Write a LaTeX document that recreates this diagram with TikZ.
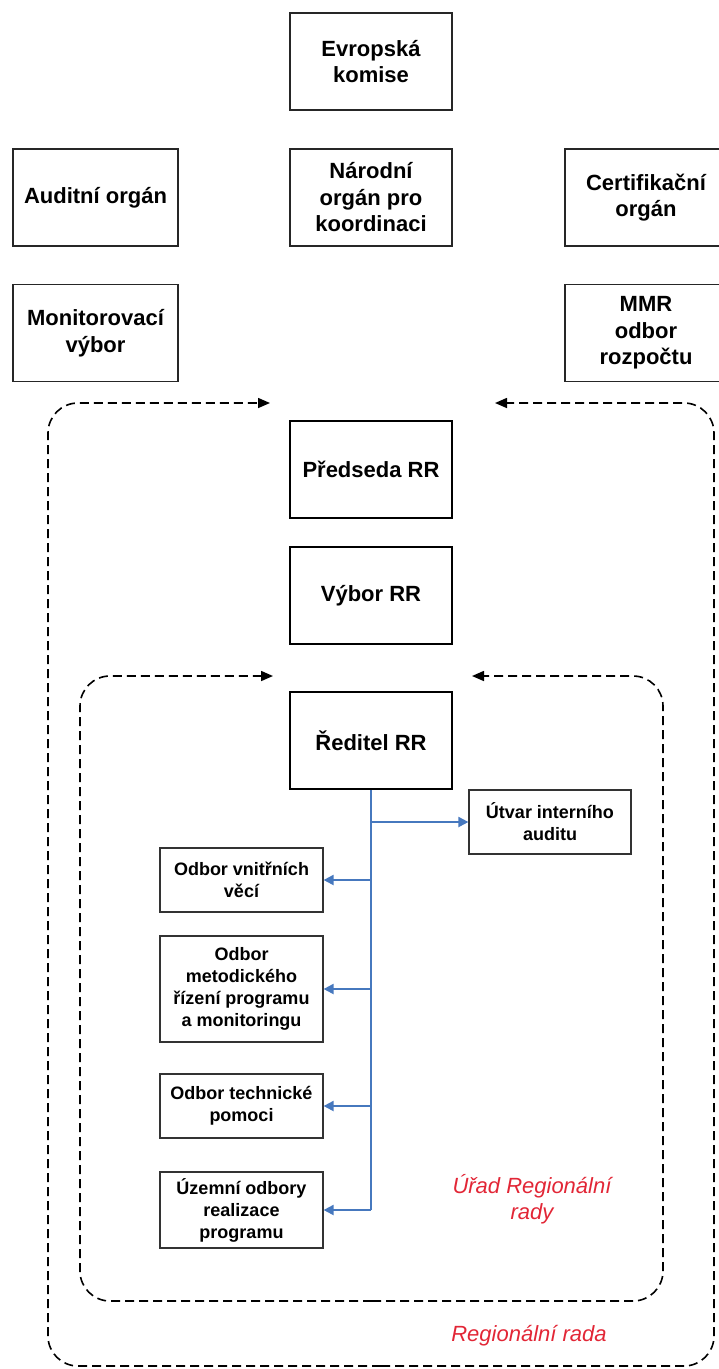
\documentclass[tikz,border=0pt]{standalone}
\usepackage{fontspec}
\setmainfont{Liberation Sans}
\usetikzlibrary{arrows.meta}
\definecolor{spojmodra}{RGB}{70,120,190}
\definecolor{popiscerv}{RGB}{226,38,54}
\tikzset{
	organ/.style={draw=black!85,line width=1.3pt,minimum width=162pt,minimum height=97pt,inner sep=2pt,align=center,font=\fontsize{22}{26.5}\selectfont\bfseries},
	rada/.style={organ,draw=black,line width=2.4pt},
	odbor/.style={draw=black!80,line width=1.2pt,minimum width=163pt,inner sep=2pt,align=center,font=\fontsize{18}{22}\selectfont\bfseries},
	ramec/.style={line width=1.6pt,dash pattern=on 9pt off 5pt,rounded corners=30pt,-{Triangle[length=12pt,width=10pt]}},
	vedeni/.style={spojmodra,line width=1.4pt},
	spoj/.style={spojmodra,line width=2pt,-{Triangle[length=10pt,width=10pt]}},
	popis/.style={popiscerv,align=center,font=\fontsize{22}{26}\selectfont\itshape}
}
\begin{document}
\begin{tikzpicture}[x=1pt,y=-1pt]
		\useasboundingbox (0,0) rectangle (718,1369);
		%vnejsi organy
		\node[organ] (ek) at (371,61.5) {Evropská\\komise};
		\node[organ,minimum width=165pt] (audit) at (95.5,197.5) {Auditní orgán};
		\node[organ] (nok) at (371,197.5) {Národní\\orgán pro\\koordinaci};
		\node[organ] (cert) at (646,197.5) {Certifikační\\orgán};
		\node[organ,minimum width=165pt] (monit) at (95.5,333) {Monitorovací\\výbor};
		\node[organ] (mmr) at (646,333) {MMR\\odbor\\rozpočtu};
		%Regionalni rada
		\node[rada] (predseda) at (371,469.5) {Předseda RR};
		\node[rada] (vybor) at (371,595.5) {Výbor RR};
		\coordinate (rrL) at (270,403);
		\coordinate (rrP) at (495,403);
		\draw[ramec] (381,1366) -- (48,1366) -- (48,403) -- (rrL);
		\draw[ramec] (381,1366) -- (714,1366) -- (714,403) -- (rrP);
		\node[popis] (rrtext) at (529,1336) {Regionální rada};
		%Urad
		\node[rada] (reditel) at (371,740.5) {Ředitel RR};
		\coordinate (urL) at (273,676);
		\coordinate (urP) at (472,676);
		\draw[ramec] (372,1301) -- (80,1301) -- (80,676) -- (urL);
		\draw[ramec] (372,1301) -- (663,1301) -- (663,676) -- (urP);
		\node[popis] (urtext) at (532,1199) {Úřad Regionální\\rady};
		%odbory
		\node[odbor,minimum width=162pt,minimum height=64pt] (utvar) at (550,822) {Útvar interního\\auditu};
		\node[odbor,minimum height=64pt] (vnitrni) at (241.5,880) {Odbor vnitřních\\věcí};
		\node[odbor,minimum height=106pt] (metod) at (241.5,989) {Odbor\\metodického\\řízení programu\\a monitoringu};
		\node[odbor,minimum height=64pt] (tech) at (241.5,1106) {Odbor technické\\pomoci};
		\node[odbor,minimum height=76pt] (uzemni) at (241.5,1210) {Územní odbory\\realizace\\programu};
		\draw[vedeni] (reditel.south) -- (reditel.south |- uzemni.east);
		\draw[spoj] (reditel.south |- utvar.west) -- (utvar.west);
		\draw[spoj] (reditel.south |- vnitrni.east) -- (vnitrni.east);
		\draw[spoj] (reditel.south |- metod.east) -- (metod.east);
		\draw[spoj] (reditel.south |- tech.east) -- (tech.east);
		\draw[spoj] (reditel.south |- uzemni.east) -- (uzemni.east);
	\end{tikzpicture}
\end{document}
